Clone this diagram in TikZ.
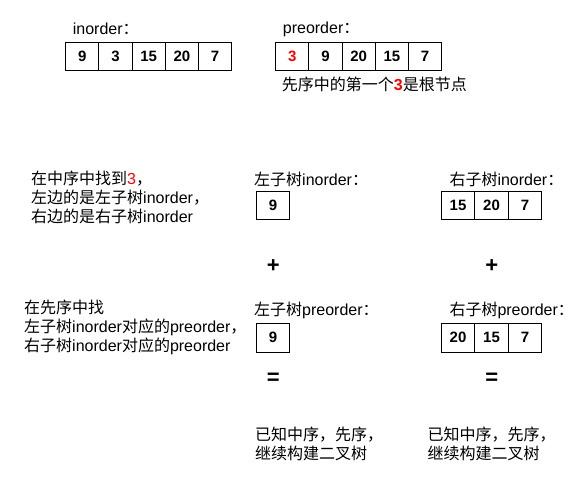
\documentclass[tikz,border=0pt]{standalone}
\usepackage{fontspec}
\setmainfont{Liberation Sans}
\newfontfamily\cjk{Noto Sans CJK SC}
\usetikzlibrary{positioning}

\begin{document}
\begin{tikzpicture}[
    x=1pt, y=-1pt,
    cell/.style={draw, line width=1pt, minimum width=33.2pt, minimum height=28pt, inner sep=0pt, outer sep=0pt, font=\bfseries\fontsize{15}{15}\selectfont},
    title/.style={anchor=west, inner sep=0pt, font=\fontsize{16}{19}\selectfont},
    note/.style={title, align=left},
    sign/.style={inner sep=0pt, font=\bfseries\fontsize{22}{22}\selectfont},
    ]
    \useasboundingbox (0,0) rectangle (580,478);

    % inorder
    \node (inT) [title] at (72.7,29) {inorder{\cjk ：}};
    \node (in1) [cell, anchor=north west] at (65.7,42.3) {9};
    \node (in2) [cell, right=0pt of in1] {3};
    \node (in3) [cell, right=0pt of in2] {15};
    \node (in4) [cell, right=0pt of in3] {20};
    \node (in5) [cell, right=0pt of in4] {7};

    % preorder
    \node (preT) [title] at (282.7,29) {preorder{\cjk ：}};
    \node (pre1) [cell, anchor=north west, text=red] at (275.7,42.3) {3};
    \node (pre2) [cell, right=0pt of pre1] {9};
    \node (pre3) [cell, right=0pt of pre2] {20};
    \node (pre4) [cell, right=0pt of pre3] {15};
    \node (pre5) [cell, right=0pt of pre4] {7};
    \node (root) [title] at (281.7,84) {{\cjk 先序中的第一个}\textbf{\textcolor{red}{3}}{\cjk 是根节点}};

    % split inorder
    \node (step1) [note] at (31,197) {{\cjk 在中序中找到}\textcolor{red}{3}{\cjk ，}\\
        {\cjk 左边的是左子树}inorder{\cjk ，}\\
        {\cjk 右边的是右子树}inorder};

    \node (lInT) [title] at (254,179) {{\cjk 左子树}inorder{\cjk ：}};
    \node (lIn1) [cell, anchor=north west, minimum width=32.6pt] at (256.7,191.7) {9};

    \node (rInT) [title] at (449.3,179) {{\cjk 右子树}inorder{\cjk ：}};
    \node (rIn1) [cell, anchor=north west, minimum width=33.5pt] at (441.3,191.7) {15};
    \node (rIn2) [cell, right=0pt of rIn1, minimum width=33.5pt] {20};
    \node (rIn3) [cell, right=0pt of rIn2, minimum width=33.5pt] {7};

    \node (lPlus) [sign] at (273.3,266.5) {+};
    \node (rPlus) [sign] at (491.7,266.5) {+};

    % split preorder
    \node (step2) [note] at (24,327) {{\cjk 在先序中找}\\
        {\cjk 左子树}inorder{\cjk 对应的}preorder{\cjk ，}\\
        {\cjk 右子树}inorder{\cjk 对应的}preorder};

    \node (lPreT) [title] at (254,310) {{\cjk 左子树}preorder{\cjk ：}};
    \node (lPre1) [cell, anchor=north west, minimum width=32.6pt, minimum height=29pt] at (256.7,323.3) {9};

    \node (rPreT) [title] at (449.3,310) {{\cjk 右子树}preorder{\cjk ：}};
    \node (rPre1) [cell, anchor=north west, minimum width=33.5pt, minimum height=29pt] at (441.3,323.3) {20};
    \node (rPre2) [cell, right=0pt of rPre1, minimum width=33.5pt, minimum height=29pt] {15};
    \node (rPre3) [cell, right=0pt of rPre2, minimum width=33.5pt, minimum height=29pt] {7};

    \node (lEq) [sign] at (273.3,378.3) {=};
    \node (rEq) [sign] at (491.7,378.3) {=};

    % recurse
    \node (lNext) [note] at (255,444) {{\cjk 已知中序，先序，}\\{\cjk 继续构建二叉树}};
    \node (rNext) [note] at (427.3,444) {{\cjk 已知中序，先序，}\\{\cjk 继续构建二叉树}};
\end{tikzpicture}
\end{document}
